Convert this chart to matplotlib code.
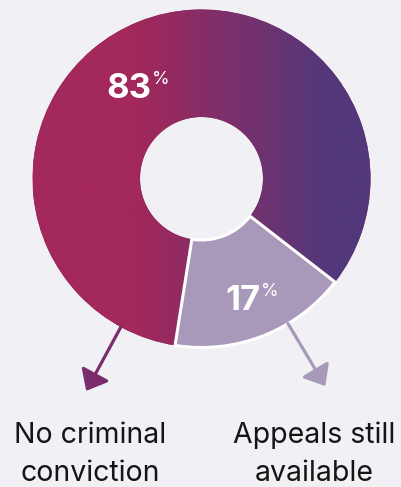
import numpy as np
import matplotlib.pyplot as plt
from matplotlib.colors import LinearSegmentedColormap
from matplotlib.patches import FancyArrowPatch

# data
labels = ['No criminal\nconviction', 'Appeals still\navailable']
shares = [83, 17]

bg = '#f0f0f5'
crimson = '#a3285b'
purple = '#52387b'
lilac = '#a898ba'

W, H = 401, 487
R = 169.0          # outer radius in pixels
cx, cy = 201.5, 178.5


def px(x, y):
    # pixel position (from top-left) -> data coords, where pie radius = 1
    return (x - cx) / R, (cy - y) / R


fig = plt.figure(figsize=(W / 100, H / 100), dpi=100, facecolor=bg)
ax = fig.add_axes([0, 0, 1, 1])
ax.set_facecolor(bg)

wedges, _ = ax.pie(shares, radius=1, startangle=-37.8, counterclock=True,
                   colors=[crimson, lilac],
                   wedgeprops=dict(width=1 - 61.5 / R, edgecolor='white', linewidth=0))
wedges[1].set_edgecolor('white')
wedges[1].set_linewidth(2.2)
wedges[1].set_zorder(3)

# horizontal gradient on the big wedge
grad = LinearSegmentedColormap.from_list(
    'grad', [(0, crimson), (0.3, crimson), (0.88, purple), (1, purple)])
img = ax.imshow(np.linspace(0, 1, 256).reshape(1, -1), cmap=grad,
                extent=(-1, 1, -1, 1), aspect='auto', zorder=2)
img.set_clip_path(wedges[0])

x0, y0 = px(0, H)
x1, y1 = px(W, 0)
ax.set_xlim(x0, x1)
ax.set_ylim(y0, y1)
ax.set_aspect('equal')
ax.axis('off')

# arrows, radial from the outer edge
arrow_angles = [-118.5, -59.2]
arrow_colors = ['#7a2c6c', lilac]
for ang, col in zip(arrow_angles, arrow_colors):
    t = np.deg2rad(ang)
    start = (np.cos(t), np.sin(t))
    end = (1.43 * np.cos(t), 1.43 * np.sin(t))
    ax.add_patch(FancyArrowPatch(start, end,
                                 arrowstyle='-|>,head_length=1.15,head_width=0.95',
                                 mutation_scale=10, color=col, lw=2.3,
                                 shrinkA=0, shrinkB=0, zorder=4))

# percentage labels
big = dict(color='white', fontsize=25, fontweight='bold', family='Inter',
           ha='left', va='baseline', zorder=5)
small = dict(color='white', fontsize=13, family='Inter', ha='left', va='top', zorder=5)
for share, pos in zip(shares, [(106, 98), (225, 310)]):
    t = ax.text(*px(*pos), f'{share}', **big)
    ax.annotate('%', xy=(1, 1), xycoords=t, xytext=(0.5, 1.5),
                textcoords='offset points', **small)

# category labels
for xc, lab in zip([90.5, 314], labels):
    for i, line in enumerate(lab.split('\n')):
        ax.text(*px(xc, 443 + 38 * i), line, fontsize=20.5, family='Inter',
                color='#151515', ha='center', va='baseline')

fig.savefig('out.png', dpi=100, facecolor=bg)
